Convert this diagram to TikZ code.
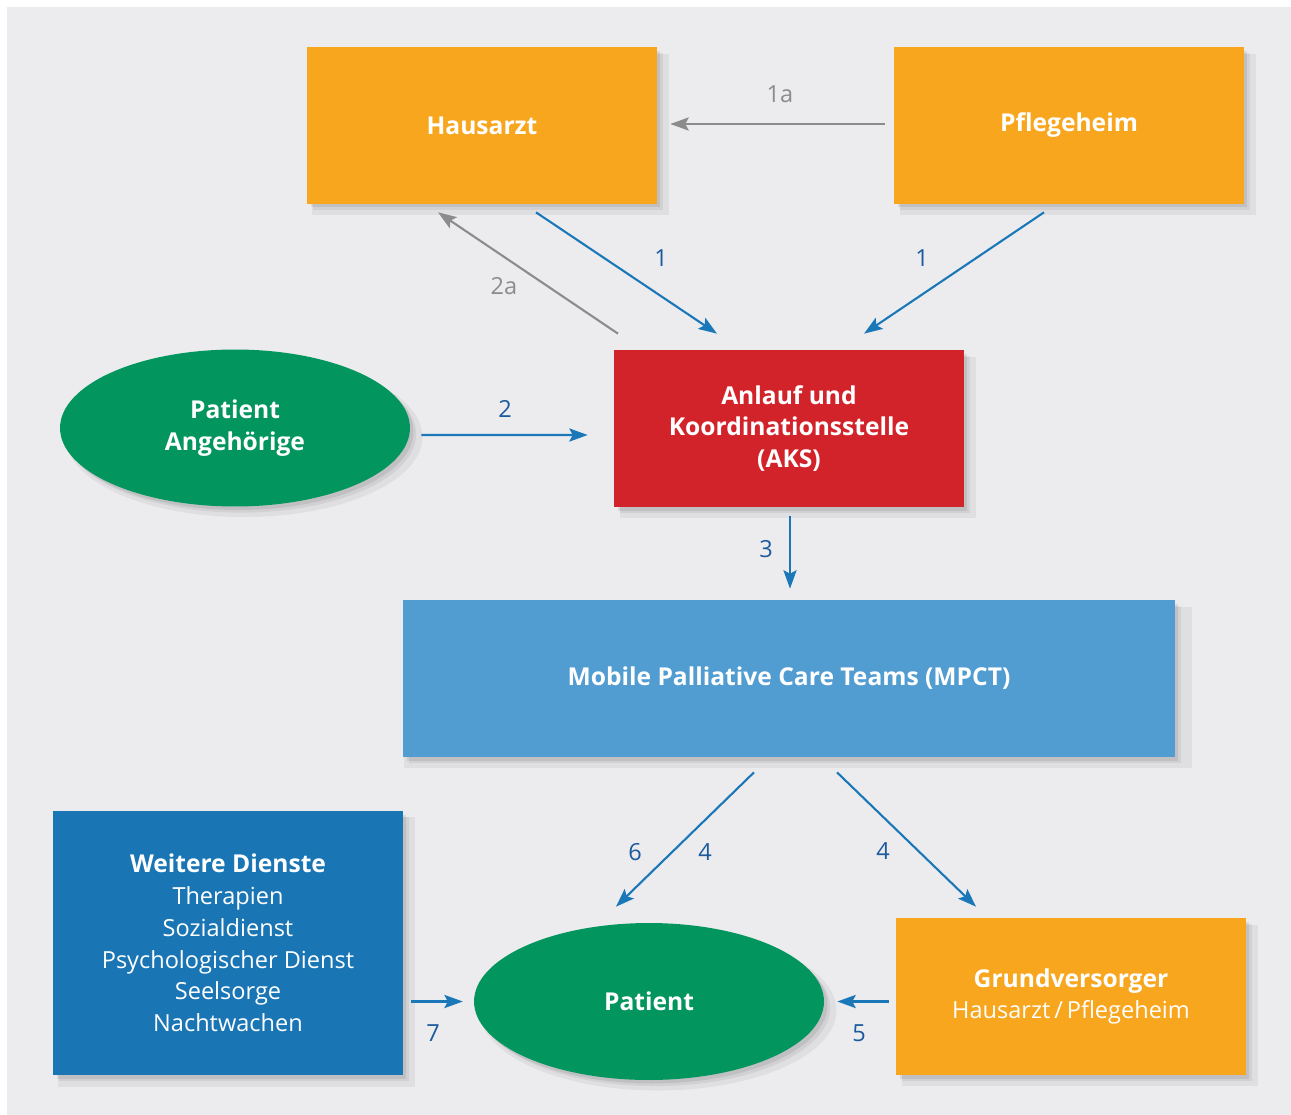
\documentclass[tikz,border=0pt]{standalone}
\usepackage{fontspec}
\setmainfont{Open Sans}
\usetikzlibrary{positioning,calc,shapes.geometric,shadows,arrows.meta}
\definecolor{bgGray}{HTML}{ECECEF}
\definecolor{boxOrange}{HTML}{F8A61E}
\definecolor{boxRed}{HTML}{D2232A}
\definecolor{boxGreen}{HTML}{02965E}
\definecolor{boxLight}{HTML}{519DD2}
\definecolor{boxDark}{HTML}{1A75B5}
\definecolor{arrBlue}{HTML}{1B78B8}
\definecolor{numBlue}{HTML}{1C5A9E}
\definecolor{arrGray}{HTML}{8C8C8D}
\tikzset{
  shade box/.style={
    drop shadow={shadow xshift=5pt,shadow yshift=-5pt,shadow scale=1.02,opacity=.05,fill=black},
    drop shadow={shadow xshift=3.5pt,shadow yshift=-3.5pt,opacity=.06,fill=black},
    drop shadow={shadow xshift=2pt,shadow yshift=-2pt,opacity=.08,fill=black}},
  box/.style={rectangle,shade box,minimum width=7cm,minimum height=3.14cm,inner sep=0pt,text=white,align=center,font=\fontsize{14}{18.1}\selectfont\bfseries},
  oval/.style={ellipse,shade box,fill=boxGreen,minimum width=7cm,minimum height=3.14cm,inner sep=0pt,text=white,align=center,font=\fontsize{14}{18.1}\selectfont\bfseries},
  conn/.style={draw=arrBlue,line width=1.2pt,-{Stealth[length=10.5pt,width=7.5pt,inset=2pt]}},
  grayconn/.style={conn,draw=arrGray},
  num/.style={text=numBlue,font=\fontsize{13.4}{15}\selectfont,inner sep=0pt},
  graynum/.style={num,text=arrGray}
}
\begin{document}
\begin{tikzpicture}[x=0.02cm,y=-0.02cm]
  \useasboundingbox (0,0) rectangle (1291,1115);
  \fill[white] (0,0) rectangle (1291,1115);
  \fill[bgGray] (7,7) rectangle (1291,1115);
  % boxes
  \node[box,fill=boxOrange] (haus) at (482,125.5) {Hausarzt};
  \node[box,fill=boxOrange] (pflege) at (1069,125.5) {Pflegeheim};
  \node[box,fill=boxRed] (aks) at (789,428.5) {Anlauf und\\Koordinationsstelle\\(AKS)};
  \node[oval] (patA) at (235,428) {Patient\\Angehörige};
  \node[box,fill=boxLight,minimum width=15.44cm] (mpct) at (789,678.5) {Mobile Palliative Care Teams (MPCT)};
  \node[box,fill=boxDark,minimum height=5.28cm,font=\fontsize{13.4}{18.1}\selectfont] (dienste) at (228,943)
    {{\fontsize{14}{18.1}\selectfont\bfseries Weitere Dienste}\\Therapien\\Sozialdienst\\Psychologischer Dienst\\Seelsorge\\Nachtwachen};
  \node[oval] (pat) at (649,1001.5) {Patient};
  \node[box,fill=boxOrange,font=\fontsize{13.4}{18.1}\selectfont] (grund) at (1071,996.5)
    {{\fontsize{14}{18.1}\selectfont\bfseries Grundversorger}\\Hausarzt\,/\,Pflegeheim};
  % connectors
  \draw[grayconn,shorten <=5.1pt,shorten >=7.4pt] ($(pflege.west)+(0,-1.5)$) -- ($(haus.east)+(0,-1.5)$);
  \draw[conn] ($(haus.south)+(54,8)$) -- ($(aks.north)+(-72,-16)$);
  \draw[conn] ($(pflege.south)+(-25,8)$) -- ($(aks.north)+(75,-16)$);
  \draw[grayconn] ($(aks.north)+(-171,-16)$) -- ($(haus.south)+(-44,8)$);
  \draw[conn] ($(patA.east)+(11,7)$) -- ($(aks.west)+(-26,6.5)$);
  \draw[conn] ($(aks.south)+(1,9)$) -- ($(mpct.north)+(1,-11)$);
  \draw[conn] ($(mpct.south)+(-35,15)$) -- ($(pat.north)+(-33,-16)$);
  \draw[conn] ($(mpct.south)+(48,15)$) -- ($(grund.north)+(-95,-11)$);
  \draw[conn,shorten <=4.5pt,shorten >=6.2pt] (dienste.east |- pat.west) -- (pat.west);
  \draw[conn,shorten <=4pt,shorten >=7.4pt] (grund.west |- pat.east) -- (pat.east);
  % labels
  \node[graynum] (n1a) at (780,94) {1a};
  \node[num] (n1l) at (661,258) {1};
  \node[num] (n1r) at (922,258) {1};
  \node[graynum] (n2a) at (504,286) {2a};
  \node[num] (n2) at (505,409) {2};
  \node[num] (n3) at (766,549) {3};
  \node[num] (n6) at (635,852) {6};
  \node[num] (n4l) at (705,852) {4};
  \node[num] (n4r) at (883,851) {4};
  \node[num] (n7) at (433,1033) {7};
  \node[num] (n5) at (859,1033) {5};
\end{tikzpicture}
\end{document}
